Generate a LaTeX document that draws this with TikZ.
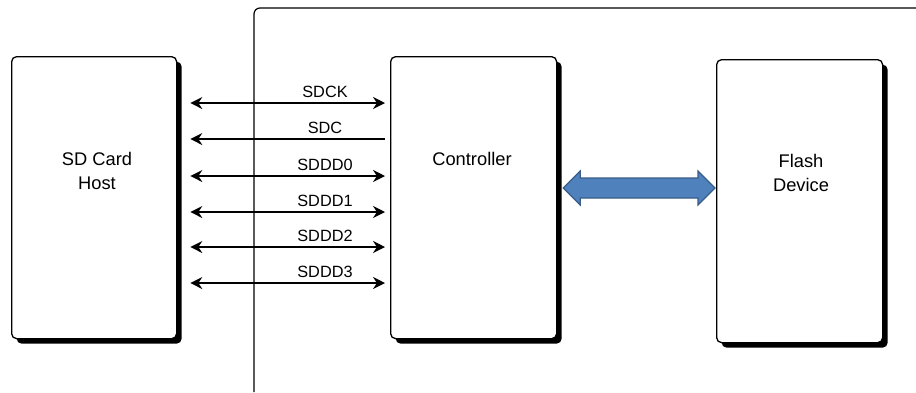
\documentclass[tikz,border=0pt]{standalone}
\usepackage{fontspec}
\setmainfont{Liberation Sans}
\usetikzlibrary{arrows.meta,calc}
\begin{document}
\begin{tikzpicture}[x=1pt,y=-1pt,
  blk/.style={draw=black, line width=1.3pt, fill=white, rounded corners=5pt, anchor=north west, inner sep=0pt,
    preaction={fill=black, transform canvas={shift={(5pt,-5pt)}}}},
  txt/.style={font=\fontsize{18.3}{24.5}\selectfont, align=center, inner sep=0pt},
  sig/.style={font=\fontsize{16.3}{18}\selectfont, inner sep=0pt},
  wire/.style={line width=1.3pt, {Stealth[length=12pt,width=12pt]}-{Stealth[length=12pt,width=12pt]}},
  wirel/.style={line width=1.3pt, {Stealth[length=12pt,width=12pt]}-},
  bus/.style={fill={rgb,255:red,79;green,129;blue,189}, draw={rgb,255:red,56;green,93;blue,138}, line width=1.2pt, line join=miter}
]
\useasboundingbox (0,0) rectangle (916,392);
\fill[white] (0,0) rectangle (916,392);
% host and controller, flash boxes
\node[blk, minimum width=165pt, minimum height=282pt] (host) at (11,56) {};
\node[blk, minimum width=166pt, minimum height=282pt] (ctrl) at (390,56) {};
\node[blk, minimum width=166pt, minimum height=283pt] (flash) at (716,59) {};
% outer frame
\draw[line width=1.2pt, rounded corners=6pt] (254,392) -- (254,8) -- (916,8);
% texts
\node[txt] (hostt) at (97,171) {SD Card\\Host};
\node[txt] (ctrlt) at (472,159) {Controller};
\node[txt] (flasht) at (801,173) {Flash\\Device};
% signal lines
\foreach \n/\yy/\lab in {a/103/SDCK, c/176/SDDD0, d/212/SDDD1, e/247/SDDD2, f/283/SDDD3}{
  \coordinate (l\n) at ([xshift=13pt]host.east |- 0,\yy);
  \coordinate (r\n) at ([xshift=-5pt]ctrl.west |- 0,\yy);
  \draw[wire] (l\n) -- (r\n);
  \node[sig] (t\n) at (325,\yy-11) {\lab};
}
\coordinate (lb) at ([xshift=13pt]host.east |- 0,139);
\coordinate (rb) at ([xshift=-5pt]ctrl.west |- 0,139);
\draw[wirel] (lb) -- (rb);
\node[sig] (tb) at (325,128) {SDC};
% bus arrow between controller and flash
\coordinate (bl) at ([xshift=6pt]ctrl.east |- 0,188);
\coordinate (br) at ([xshift=-1pt]flash.west |- 0,188);
\draw[bus] (bl) -- ($(bl)+(17,-17)$) -- ($(bl)+(17,-10)$) -- ($(br)+(-17,-10)$) -- ($(br)+(-17,-17)$)
  -- (br) -- ($(br)+(-17,17)$) -- ($(br)+(-17,10)$) -- ($(bl)+(17,10)$) -- ($(bl)+(17,17)$) -- cycle;
\end{tikzpicture}
\end{document}
